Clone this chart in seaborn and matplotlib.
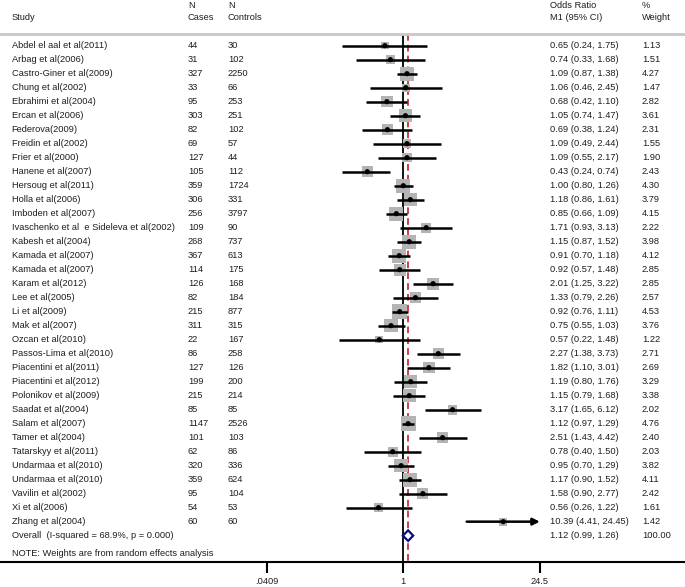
import numpy as np
import pandas as pd
import matplotlib
matplotlib.use("Agg")
import matplotlib.pyplot as plt
import seaborn as sns

# Données du forest plot
studies = ["Abdel el aal et al(2011)", "Arbag et al(2006)", "Castro-Giner et al(2009)",
           "Chung et al(2002)", "Ebrahimi et al(2004)", "Ercan et al(2006)",
           "Federova(2009)", "Freidin et al(2002)", "Frier et al(2000)",
           "Hanene et al(2007)", "Hersoug et al(2011)", "Holla et al(2006)",
           "Imboden et al(2007)", "Ivaschenko et al  e Sideleva et al(2002)",
           "Kabesh et al(2004)", "Kamada et al(2007)", "Kamada et al(2007)",
           "Karam et al(2012)", "Lee et al(2005)", "Li et al(2009)", "Mak et al(2007)",
           "Ozcan et al(2010)", "Passos-Lima et al(2010)", "Piacentini et al(2011)",
           "Piacentini et al(2012)", "Polonikov et al(2009)", "Saadat et al(2004)",
           "Salam et al(2007)", "Tamer et al(2004)", "Tatarskyy et al(2011)",
           "Undarmaa et al(2010)", "Undarmaa et al(2010)", "Vavilin et al(2002)",
           "Xi et al(2006)", "Zhang et al(2004)"]
n_cases = [44, 31, 327, 33, 95, 303, 82, 69, 127, 105, 359, 306, 256, 109, 268, 367,
           114, 126, 82, 215, 311, 22, 86, 127, 199, 215, 85, 1147, 101, 62, 320, 359,
           95, 54, 60]
n_controls = [30, 102, 2250, 66, 253, 251, 102, 57, 44, 112, 1724, 331, 3797, 90, 737,
              613, 175, 168, 184, 877, 315, 167, 258, 126, 200, 214, 85, 2526, 103, 86,
              336, 624, 104, 53, 60]
odds_ratio = [0.65, 0.74, 1.09, 1.06, 0.68, 1.05, 0.69, 1.09, 1.09, 0.43, 1.00, 1.18,
              0.85, 1.71, 1.15, 0.91, 0.92, 2.01, 1.33, 0.92, 0.75, 0.57, 2.27, 1.82,
              1.19, 1.15, 3.17, 1.12, 2.51, 0.78, 0.95, 1.17, 1.58, 0.56, 10.39]
ci_low = [0.24, 0.33, 0.87, 0.46, 0.42, 0.74, 0.38, 0.49, 0.55, 0.24, 0.80, 0.86, 0.66,
          0.93, 0.87, 0.70, 0.57, 1.25, 0.79, 0.76, 0.55, 0.22, 1.38, 1.10, 0.80, 0.79,
          1.65, 0.97, 1.43, 0.40, 0.70, 0.90, 0.90, 0.26, 4.41]
ci_high = [1.75, 1.68, 1.38, 2.45, 1.10, 1.47, 1.24, 2.44, 2.17, 0.74, 1.26, 1.61, 1.09,
           3.13, 1.52, 1.18, 1.48, 3.22, 2.26, 1.11, 1.03, 1.48, 3.73, 3.01, 1.76, 1.68,
           6.12, 1.29, 4.42, 1.50, 1.29, 1.52, 2.77, 1.22, 24.45]
weights = [1.13, 1.51, 4.27, 1.47, 2.82, 3.61, 2.31, 1.55, 1.90, 2.43, 4.30, 3.79, 4.15,
           2.22, 3.98, 4.12, 2.85, 2.85, 2.57, 4.53, 3.76, 1.22, 2.71, 2.69, 3.29, 3.38,
           2.02, 4.76, 2.40, 2.03, 3.82, 4.11, 2.42, 1.61, 1.42]

overall_label = "Overall  (I-squared = 68.9%, p = 0.000)"
overall_or, overall_low, overall_high = 1.12, 0.99, 1.26
note = "NOTE: Weights are from random effects analysis"
tick_vals = [0.0409, 1, 24.5]
tick_labels = [".0409", "1", "24.5"]

df = pd.DataFrame({"study": studies, "cases": n_cases, "controls": n_controls,
                   "or": odds_ratio, "low": ci_low, "high": ci_high, "w": weights})
df["row"] = np.arange(len(df))
n = len(df)

sns.set_style("white")
plt.rcParams["font.family"] = ["Liberation Sans", "DejaVu Sans"]
plt.rcParams["font.size"] = 6.7
txt_col = "#1e1e1e"

fig = plt.figure(figsize=(6.85, 5.87), dpi=100)
ax = fig.add_axes([0, 25.3 / 587, 1, 561.7 / 587])
ax.set_xscale("log")
# 1 à x=403 px, 42.7 px par unité log
ax.set_xlim(np.exp(-403.3 / 42.7), np.exp((685 - 403.3) / 42.7))
ax.set_ylim(36.86, -3.264)

# lignes verticales (nul et effet global)
ax.vlines(1, -0.8, 36.86, color="black", lw=1.3, zorder=2)
ax.vlines(overall_or, -0.8, 36.86, color="#c0202a", lw=1.2, linestyles=(0, (4, 2.5)), zorder=2)

# carrés pondérés
sns.scatterplot(data=df, x="or", y="row", size="w", sizes=(0, 247), size_norm=(0, 10),
                marker="s", color="#b4b4b4", edgecolor="none", legend=False, ax=ax, zorder=3)

# intervalles de confiance
clipped = df["high"] >= 24.4
ax.hlines(df.loc[~clipped, "row"], df.loc[~clipped, "low"], df.loc[~clipped, "high"],
          color="black", lw=1.8, zorder=4)
for _, r in df[clipped].iterrows():
    ax.annotate("", xy=(r["high"], r["row"]), xytext=(r["low"], r["row"]),
                arrowprops=dict(arrowstyle="-|>,head_length=0.6,head_width=0.3",
                                color="black", lw=1.8, shrinkA=0, shrinkB=0), zorder=4)

sns.scatterplot(data=df, x="or", y="row", marker="o", s=14, color="black",
                edgecolor="none", legend=False, ax=ax, zorder=5)

# diamant global
yo = n
ax.fill([overall_low, overall_or, overall_high, overall_or, overall_low],
        [yo, yo - 0.38, yo, yo + 0.38, yo], facecolor="white", edgecolor="#0a0a80",
        lw=1.6, zorder=6)

# colonnes de texte
tr = ax.get_yaxis_transform()
def col(px):
    return px / 685

for _, r in df.iterrows():
    y = r["row"]
    ax.text(col(11.5), y, r["study"], transform=tr, va="center", color=txt_col)
    ax.text(col(188), y, f"{r['cases']}", transform=tr, va="center", color=txt_col)
    ax.text(col(228), y, f"{r['controls']}", transform=tr, va="center", color=txt_col)
    ax.text(col(550), y, f"{r['or']:.2f} ({r['low']:.2f}, {r['high']:.2f})",
            transform=tr, va="center", color=txt_col)
    ax.text(col(642), y, f"{r['w']:.2f}", transform=tr, va="center", color=txt_col)

ax.text(col(11.5), yo, overall_label, transform=tr, va="center", color=txt_col)
ax.text(col(550), yo, f"{overall_or:.2f} ({overall_low:.2f}, {overall_high:.2f})",
        transform=tr, va="center", color=txt_col)
ax.text(col(642), yo, "100.00", transform=tr, va="center", color=txt_col)
ax.text(col(11.5), 36.26, note, transform=tr, va="center", color=txt_col)

# en-têtes
for px, top, bottom in [(11.5, "", "Study"), (188, "N", "Cases"), (228, "N", "Controls"),
                        (550, "Odds Ratio", "M1 (95% CI)"), (642, "%", "Weight")]:
    if top:
        ax.text(col(px), -2.84, top, transform=tr, va="center", color=txt_col)
    ax.text(col(px), -1.98, bottom, transform=tr, va="center", color=txt_col)
ax.axhline(-0.83, color="#c8c8c8", lw=2)

# axe
for s in ["top", "left", "right"]:
    ax.spines[s].set_visible(False)
ax.spines["bottom"].set_color("black")
ax.spines["bottom"].set_linewidth(1.5)
ax.set_xticks(tick_vals)
ax.set_xticklabels(tick_labels)
ax.xaxis.set_minor_locator(matplotlib.ticker.NullLocator())
ax.tick_params(axis="x", direction="out", length=8, width=1.5, pad=3, colors="black",
               labelcolor=txt_col, bottom=True)
ax.set_yticks([])
ax.set_xlabel("")
ax.set_ylabel("")

fig.savefig("out.png", dpi=100)
